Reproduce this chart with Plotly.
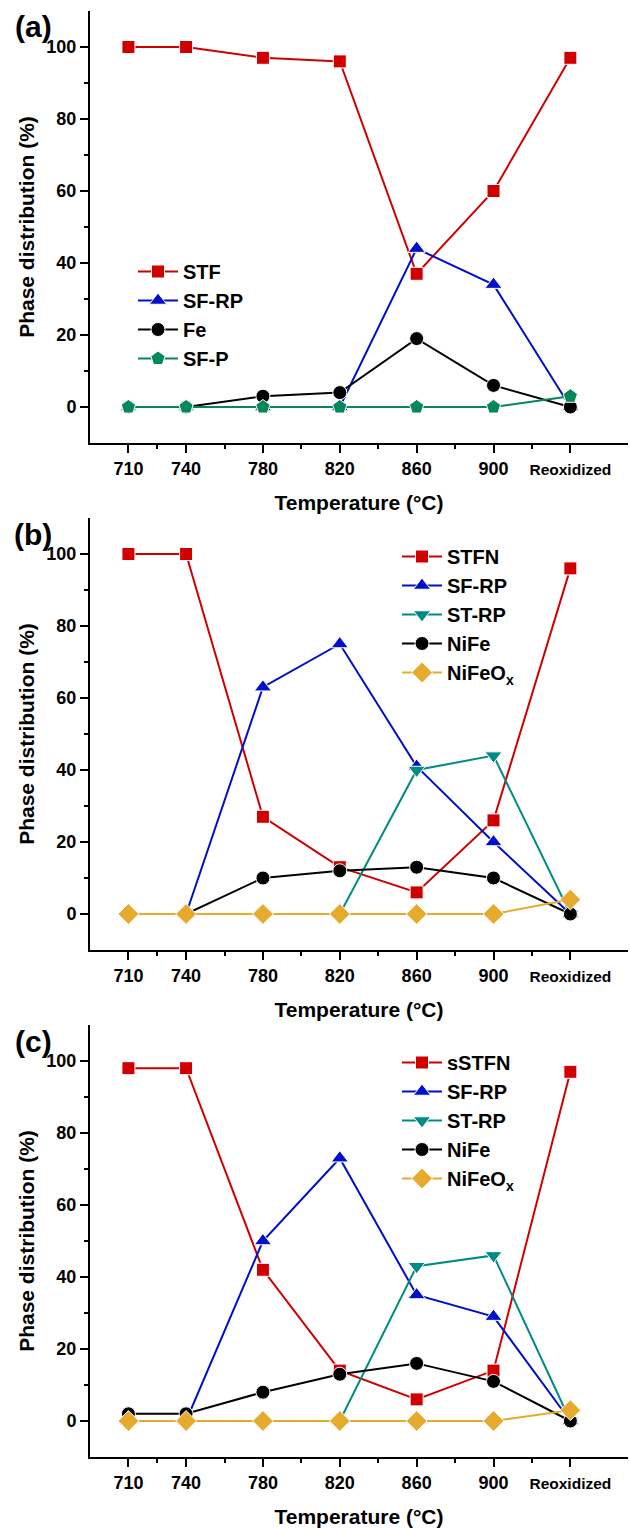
import plotly.graph_objects as go

# ---------------- data ----------------
x_vals = [710, 740, 780, 820, 860, 900, 940]
x_ticklabels = ["710", "740", "780", "820", "860", "900",
                "<span style='font-size:15.5px'>Reoxidized</span>"]
x_minor = [725, 760, 800, 840, 880, 920]
y_major = [0, 20, 40, 60, 80, 100]
y_minor = [10, 30, 50, 70, 90]

# panel (a)
a_STF = [100, 100, 97, 96, 37, 60, 97]
a_SFRP = [0, 0, 0, 0, 44, 34, 0]
a_Fe = [0, 0, 3, 4, 19, 6, 0]
a_SFP = [0, 0, 0, 0, 0, 0, 3]

# panel (b)
b_STFN = [100, 100, 27, 13, 6, 26, 96]
b_SFRP = [0, 0, 63, 75, 41, 20, 0]
b_STRP = [0, 0, 0, 0, 40, 44, 0]
b_NiFe = [0, 0, 10, 12, 13, 10, 0]
b_NiFeOx = [0, 0, 0, 0, 0, 0, 4]

# panel (c)
c_sSTFN = [98, 98, 42, 14, 6, 14, 97]
c_SFRP = [0, 0, 50, 73, 35, 29, 0]
c_STRP = [0, 0, 0, 0, 43, 46, 0]
c_NiFe = [2, 2, 8, 13, 16, 11, 0]
c_NiFeOx = [0, 0, 0, 0, 0, 0, 3]

# ---------------- styles ----------------
RED = "#D10000"
BLUE = "#0010C8"
BLACK = "#000000"
GREEN = "#05875A"
TEAL = "#008B84"
ORANGE = "#E6AA2C"
FONT = "Arial, Liberation Sans, sans-serif"

styles = {
    "sq": dict(color=RED, symbol="square", size=13),
    "tri": dict(color=BLUE, symbol="triangle-up", size=15),
    "circ": dict(color=BLACK, symbol="circle", size=14),
    "pent": dict(color=GREEN, symbol="pentagon", size=15),
    "tdown": dict(color=TEAL, symbol="triangle-down", size=15),
    "dia": dict(color=ORANGE, symbol="diamond", size=16),
}

panels = [
    ("x", "y", "legend", [("STF", a_STF, "sq"), ("SF-RP", a_SFRP, "tri"),
                           ("Fe", a_Fe, "circ"), ("SF-P", a_SFP, "pent")]),
    ("x2", "y2", "legend2", [("STFN", b_STFN, "sq"), ("SF-RP", b_SFRP, "tri"),
                              ("ST-RP", b_STRP, "tdown"), ("NiFe", b_NiFe, "circ"),
                              ("NiFeO<sub>x</sub>", b_NiFeOx, "dia")]),
    ("x3", "y3", "legend3", [("sSTFN", c_sSTFN, "sq"), ("SF-RP", c_SFRP, "tri"),
                              ("ST-RP", c_STRP, "tdown"), ("NiFe", c_NiFe, "circ"),
                              ("NiFeO<sub>x</sub>", c_NiFeOx, "dia")]),
]

fig = go.Figure()
for xa, ya, lg, series in panels:
    for name, vals, st in series:
        s = styles[st]
        fig.add_trace(go.Scatter(
            x=x_vals, y=vals, name=name, mode="lines+markers",
            xaxis=xa, yaxis=ya, legend=lg, cliponaxis=False,
            line=dict(color=s["color"], width=2),
            marker=dict(color=s["color"], symbol=s["symbol"], size=s["size"],
                        line=dict(color="white", width=1)),
        ))

W, H = 630, 1529
x_dom = [90 / W, 628 / W]
tops = [11, 518, 1025]
ph = 432
y_doms = [[1 - (t + ph) / H, 1 - t / H] for t in tops]

tickfont = dict(family=FONT, size=18, color="black", weight="bold")
titlefont = dict(family=FONT, size=21, color="black", weight="bold")

layout = dict(
    width=W, height=H,
    margin=dict(l=0, r=0, t=0, b=0, autoexpand=False),
    paper_bgcolor="white", plot_bgcolor="white",
    showlegend=True,
)

for i in range(3):
    xn = "xaxis" if i == 0 else f"xaxis{i+1}"
    yn = "yaxis" if i == 0 else f"yaxis{i+1}"
    xref = "x" if i == 0 else f"x{i+1}"
    yref = "y" if i == 0 else f"y{i+1}"
    layout[xn] = dict(
        domain=x_dom, anchor=yref, range=[690, 970], automargin=False,
        tickmode="array", tickvals=x_vals, ticktext=x_ticklabels,
        ticks="outside", ticklen=8, tickwidth=2, tickcolor="black",
        minor=dict(tickmode="array", tickvals=x_minor, ticks="outside",
                   ticklen=4, tickwidth=2, tickcolor="black"),
        showline=True, linewidth=2, linecolor="black",
        showgrid=False, zeroline=False,
        tickfont=tickfont,
        title=dict(text="Temperature (°C)", font=titlefont, standoff=18),
    )
    layout[yn] = dict(
        domain=y_doms[i], anchor=xref, range=[-10, 110], automargin=False,
        tickmode="array", tickvals=y_major,
        ticks="outside", ticklen=8, tickwidth=2, tickcolor="black",
        minor=dict(tickmode="array", tickvals=y_minor, ticks="outside",
                   ticklen=4, tickwidth=2, tickcolor="black"),
        showline=True, linewidth=2, linecolor="black",
        showgrid=False, zeroline=False,
        tickfont=tickfont,
        title=dict(text="Phase distribution (%)", font=titlefont, standoff=6),
    )
    # top and right mirror axes (ticks pointing inward)
    layout[f"xaxis{i+4}"] = dict(
        overlaying=xref, anchor=yref, side="top", range=[690, 970], automargin=False,
        tickmode="array", tickvals=x_vals, showticklabels=False,
        ticks="inside", ticklen=8, tickwidth=2, tickcolor="black",
        minor=dict(tickmode="array", tickvals=x_minor, ticks="inside",
                   ticklen=4, tickwidth=2, tickcolor="black"),
        showline=True, linewidth=2, linecolor="black",
        showgrid=False, zeroline=False,
    )
    layout[f"yaxis{i+4}"] = dict(
        overlaying=yref, anchor=xref, side="right", range=[-10, 110], automargin=False,
        tickmode="array", tickvals=y_major, showticklabels=False,
        ticks="inside", ticklen=8, tickwidth=2, tickcolor="black",
        minor=dict(tickmode="array", tickvals=y_minor, ticks="inside",
                   ticklen=4, tickwidth=2, tickcolor="black"),
        showline=True, linewidth=2, linecolor="black",
        showgrid=False, zeroline=False,
    )

legfont = dict(family=FONT, size=20, color="black", weight="bold")
leg_common = dict(font=legfont, bgcolor="rgba(0,0,0,0)", borderwidth=0,
                  xanchor="left", yanchor="top", tracegroupgap=0, itemwidth=40)
layout["legend"] = dict(x=133 / W, y=1 - 252 / H, **leg_common)
layout["legend2"] = dict(x=397 / W, y=1 - 537 / H, **leg_common)
layout["legend3"] = dict(x=397 / W, y=1 - 1043 / H, **leg_common)

fig.update_layout(**layout)

for lab, t in zip(["(a)", "(b)", "(c)"], [27, 534, 1041]):
    fig.add_annotation(
        text=lab, xref="paper", yref="paper", x=33 / W, y=1 - t / H,
        xanchor="center", yanchor="middle", showarrow=False,
        font=dict(family=FONT, size=30, color="black", weight="bold"),
    )

fig.write_html(
    "out.html",
    config={"displayModeBar": False},
    post_script="document.body.style.margin='0';document.body.style.overflow='hidden';",
)
